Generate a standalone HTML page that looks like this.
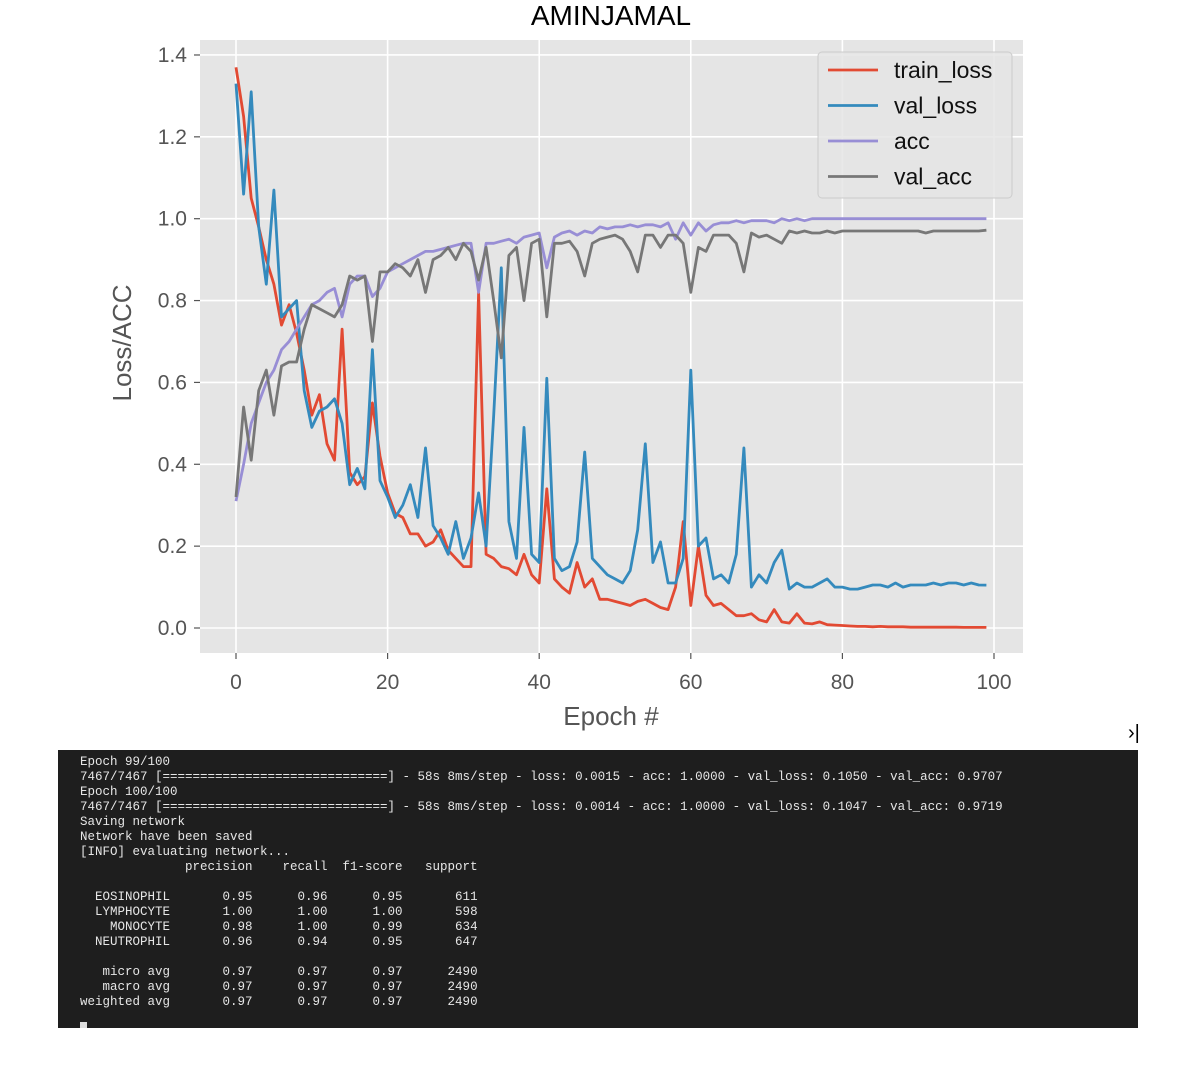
<!DOCTYPE html>
<html><head><meta charset="utf-8">
<style>
html,body{margin:0;padding:0;background:#fff;width:1200px;height:1086px;overflow:hidden;}
#chart{position:absolute;left:0;top:0;}
#term{position:absolute;left:58px;top:750px;width:1080px;height:278px;background:#1e1e1e;overflow:hidden;}
#term pre{margin:0;position:absolute;left:22px;top:5px;font-family:"Liberation Mono",monospace;font-size:12.5px;line-height:15px;color:#e6e6e6;}
#cursor{position:absolute;left:22px;top:272px;width:7px;height:6px;background:#ddd;}
#caret{position:absolute;left:1128px;top:722px;font-family:"Liberation Sans",sans-serif;font-size:20px;color:#000;}
</style></head>
<body>
<svg id="chart" width="1200" height="745" xmlns="http://www.w3.org/2000/svg" font-family="Liberation Sans, DejaVu Sans, sans-serif"></svg>
<div id="caret">›|</div>
<div id="term">
<pre>Epoch 99/100
7467/7467 [==============================] - 58s 8ms/step - loss: 0.0015 - acc: 1.0000 - val_loss: 0.1050 - val_acc: 0.9707
Epoch 100/100
7467/7467 [==============================] - 58s 8ms/step - loss: 0.0014 - acc: 1.0000 - val_loss: 0.1047 - val_acc: 0.9719
Saving network
Network have been saved
[INFO] evaluating network...
              precision    recall  f1-score   support

  EOSINOPHIL       0.95      0.96      0.95       611
  LYMPHOCYTE       1.00      1.00      1.00       598
    MONOCYTE       0.98      1.00      0.99       634
  NEUTROPHIL       0.96      0.94      0.95       647

   micro avg       0.97      0.97      0.97      2490
   macro avg       0.97      0.97      0.97      2490
weighted avg       0.97      0.97      0.97      2490
</pre>
<div id="cursor"></div>
</div>
<script>
const trainLoss=[1.37,1.25,1.05,0.98,0.9,0.84,0.74,0.79,0.72,0.63,0.52,0.57,0.45,0.41,0.73,0.38,0.35,0.37,0.55,0.42,0.33,0.28,0.27,0.23,0.23,0.2,0.21,0.24,0.19,0.17,0.15,0.15,0.82,0.18,0.17,0.15,0.145,0.13,0.18,0.13,0.11,0.34,0.12,0.1,0.085,0.16,0.1,0.12,0.07,0.07,0.065,0.06,0.055,0.065,0.07,0.06,0.05,0.045,0.1,0.26,0.055,0.2,0.08,0.055,0.06,0.045,0.03,0.03,0.035,0.02,0.015,0.045,0.015,0.012,0.035,0.012,0.01,0.015,0.008,0.007,0.006,0.005,0.004,0.004,0.003,0.004,0.003,0.003,0.003,0.002,0.002,0.002,0.002,0.002,0.002,0.002,0.0015,0.0015,0.0015,0.0014];
const valLoss=[1.33,1.06,1.31,0.98,0.84,1.07,0.76,0.78,0.8,0.58,0.49,0.53,0.54,0.56,0.5,0.35,0.39,0.34,0.68,0.36,0.32,0.27,0.3,0.35,0.27,0.44,0.25,0.22,0.18,0.26,0.17,0.22,0.33,0.2,0.52,0.88,0.26,0.17,0.49,0.18,0.16,0.61,0.17,0.14,0.15,0.21,0.43,0.17,0.15,0.13,0.12,0.11,0.14,0.24,0.45,0.16,0.21,0.11,0.11,0.17,0.63,0.2,0.22,0.12,0.13,0.11,0.18,0.44,0.1,0.13,0.11,0.16,0.19,0.095,0.11,0.1,0.1,0.11,0.12,0.1,0.1,0.095,0.095,0.1,0.105,0.105,0.1,0.11,0.1,0.105,0.105,0.105,0.11,0.105,0.11,0.11,0.105,0.11,0.105,0.1047];
const acc=[0.31,0.4,0.5,0.55,0.6,0.63,0.68,0.7,0.73,0.76,0.79,0.8,0.82,0.83,0.76,0.84,0.86,0.86,0.81,0.83,0.87,0.88,0.89,0.9,0.91,0.92,0.92,0.925,0.93,0.935,0.94,0.94,0.82,0.94,0.94,0.945,0.95,0.94,0.955,0.96,0.965,0.88,0.955,0.965,0.97,0.96,0.97,0.965,0.98,0.975,0.98,0.98,0.985,0.98,0.985,0.985,0.98,0.99,0.95,0.99,0.96,0.99,0.97,0.985,0.99,0.99,0.995,0.99,0.995,0.995,0.995,0.99,1.0,0.995,1.0,0.995,1.0,1.0,1.0,1.0,1.0,1.0,1.0,1.0,1.0,1.0,1.0,1.0,1.0,1.0,1.0,1.0,1.0,1.0,1.0,1.0,1.0,1.0,1.0,1.0];
const valAcc=[0.32,0.54,0.41,0.58,0.63,0.52,0.64,0.65,0.65,0.73,0.79,0.78,0.77,0.76,0.79,0.86,0.85,0.86,0.7,0.87,0.87,0.89,0.88,0.86,0.9,0.82,0.9,0.91,0.93,0.9,0.94,0.92,0.85,0.93,0.8,0.66,0.91,0.93,0.8,0.94,0.95,0.76,0.94,0.94,0.945,0.92,0.86,0.94,0.95,0.955,0.96,0.95,0.92,0.87,0.96,0.96,0.93,0.96,0.96,0.94,0.82,0.93,0.92,0.96,0.96,0.96,0.94,0.87,0.965,0.955,0.96,0.95,0.94,0.97,0.965,0.97,0.965,0.965,0.97,0.965,0.97,0.97,0.97,0.97,0.97,0.97,0.97,0.97,0.97,0.97,0.97,0.965,0.97,0.97,0.97,0.97,0.97,0.97,0.97,0.9719];
const yTicks=[0.0,0.2,0.4,0.6,0.8,1.0,1.2,1.4];
const xTicks=[0,20,40,60,80,100];
const seriesNames=["train_loss","val_loss","acc","val_acc"];

const NS="http://www.w3.org/2000/svg";
const svg=document.getElementById('chart');
const PL=200,PR=1023,PT=40,PB=653;
const xS=v=>236+v*7.58;
const yS=v=>628-v*409.3;
function mk(tag,attrs,parent){const e=document.createElementNS(NS,tag);for(const k in attrs)e.setAttribute(k,attrs[k]);(parent||svg).appendChild(e);return e;}
const title=mk('text',{x:611,y:25,'text-anchor':'middle','font-size':28,fill:'#000'});


title.textContent='AMINJAMAL';
const bg=mk('rect',{x:PL,y:PT,width:PR-PL,height:PB-PT,fill:'#E5E5E5'});


yTicks.forEach(t=>{
  const g=mk('line',{x1:PL,x2:PR,y1:yS(t),y2:yS(t),stroke:'#fff','stroke-width':1.6});
  
  
  mk('line',{x1:PL-6,x2:PL,y1:yS(t),y2:yS(t),stroke:'#555','stroke-width':1.2});
  const l=mk('text',{x:PL-13,y:yS(t)+7,'text-anchor':'end','font-size':21,fill:'#555'});
  
  
  l.textContent=t.toFixed(1);
});
xTicks.forEach(t=>{
  const g=mk('line',{x1:xS(t),x2:xS(t),y1:PT,y2:PB,stroke:'#fff','stroke-width':1.6});
  
  
  mk('line',{x1:xS(t),x2:xS(t),y1:PB,y2:PB+6,stroke:'#555','stroke-width':1.2});
  const l=mk('text',{x:xS(t),y:689,'text-anchor':'middle','font-size':21,fill:'#555'});
  
  
  l.textContent=t;
});
const xt=mk('text',{x:611,y:725,'text-anchor':'middle','font-size':26,fill:'#555'});


xt.textContent='Epoch #';
const yt=mk('text',{x:0,y:0,'text-anchor':'middle','font-size':26,fill:'#555',transform:'translate(131,343) rotate(-90)'});


yt.textContent='Loss/ACC';
const colors=['#E24A33','#348ABD','#988ED5','#777777'];
[trainLoss,valLoss,acc,valAcc].forEach((arr,i)=>{
  const d=arr.map((v,j)=>(j?'L':'M')+xS(j).toFixed(1)+','+yS(v).toFixed(1)).join('');
  const p=mk('path',{d:d,fill:'none',stroke:colors[i],'stroke-width':2.8,'stroke-linejoin':'round'});
  
  
});
const lg=mk('g',{});


mk('rect',{x:818,y:52,width:194,height:146,rx:4,fill:'#E5E5E5','fill-opacity':0.85,stroke:'#ccc','stroke-width':1},lg);
seriesNames.forEach((n,i)=>{
  const y=70+i*35.5;
  const ln=mk('line',{x1:828,x2:878,y1:y,y2:y,stroke:colors[i],'stroke-width':2.8},lg);
  
  
  const t=mk('text',{x:894,y:y+8,'font-size':23,fill:'#111'},lg);
  
  
  t.textContent=n;
});
</script>
</body></html>
